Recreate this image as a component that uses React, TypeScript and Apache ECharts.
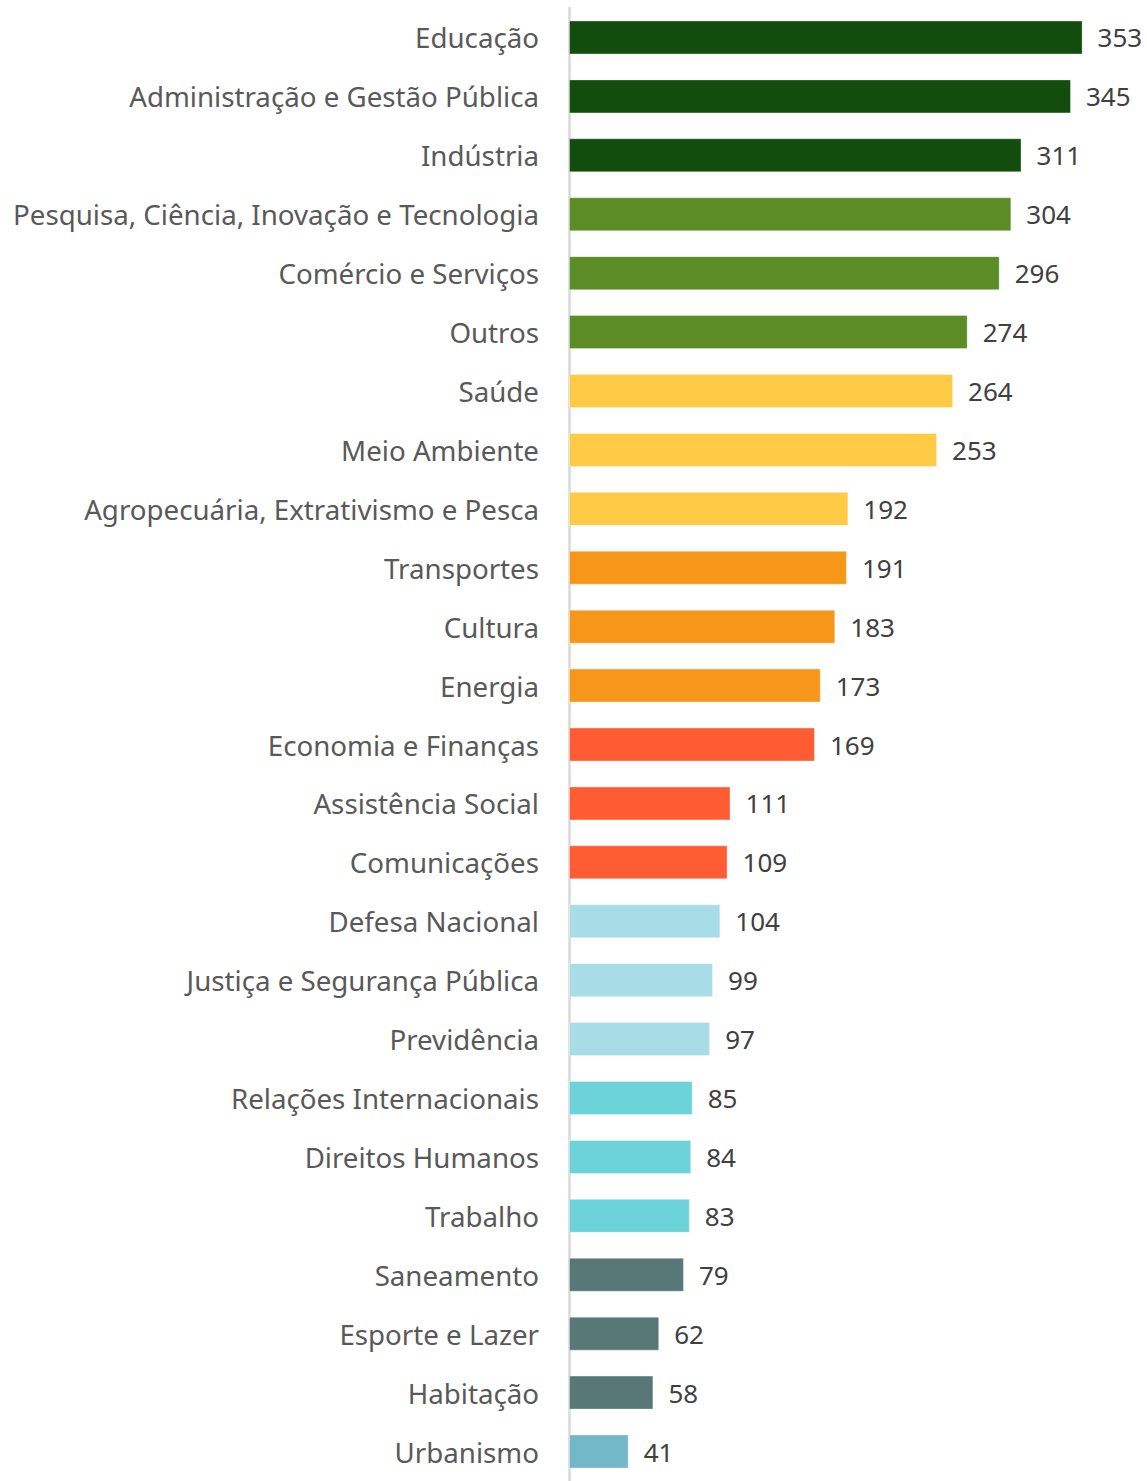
import React, { useEffect, useRef } from "react";
import * as echarts from "echarts";

const categories = [
  "Educação",
  "Administração e Gestão Pública",
  "Indústria",
  "Pesquisa, Ciência, Inovação e Tecnologia",
  "Comércio e Serviços",
  "Outros",
  "Saúde",
  "Meio Ambiente",
  "Agropecuária, Extrativismo e Pesca",
  "Transportes",
  "Cultura",
  "Energia",
  "Economia e Finanças",
  "Assistência Social",
  "Comunicações",
  "Defesa Nacional",
  "Justiça e Segurança Pública",
  "Previdência",
  "Relações Internacionais",
  "Direitos Humanos",
  "Trabalho",
  "Saneamento",
  "Esporte e Lazer",
  "Habitação",
  "Urbanismo",
];

const values = [353, 345, 311, 304, 296, 274, 264, 253, 192, 191, 183, 173, 169, 111, 109, 104, 99, 97, 85, 84, 83, 79, 62, 58, 41];

const groups = [0, 0, 0, 1, 1, 1, 2, 2, 2, 3, 3, 3, 4, 4, 4, 5, 5, 5, 6, 6, 6, 7, 7, 7, 8];

const palette = ["#134D0E", "#5B8C26", "#FFCA45", "#F7971A", "#FF5C33", "#A8DCE6", "#6CD3DB", "#577877", "#72B8C8"];

export default function App() {
  const ref = useRef<HTMLDivElement>(null);
  useEffect(() => {
    document.body.style.margin = "0";
    const chart = echarts.init(ref.current!, null, { renderer: "svg" });
    chart.setOption({
      animation: false,
      grid: { left: 569, right: 12, top: 8, height: 1480 },
      xAxis: {
        type: "value",
        min: 0,
        max: 389,
        show: false,
      },
      yAxis: {
        type: "category",
        inverse: true,
        data: categories,
        axisLine: { show: true, lineStyle: { color: "#D9D9D9", width: 2.5 } },
        axisTick: { show: false },
        axisLabel: {
          color: "#595959",
          fontSize: 27.7,
          fontFamily: "Noto Sans",
          margin: 30,
        },
      },
      series: [
        {
          type: "bar",
          barWidth: 34,
          data: values.map((v, i) => ({
            value: v,
            itemStyle: { color: palette[groups[i]] },
          })),
          itemStyle: { borderColor: "rgba(255,255,255,0.35)", borderWidth: 1 },
          label: {
            show: true,
            position: "right",
            distance: 15,
            color: "#404040",
            fontSize: 26,
            fontFamily: "Noto Sans",
          },
        },
      ],
    });
    return () => chart.dispose();
  }, []);
  return <div ref={ref} style={{ width: 1147, height: 1481 }} />;
}
